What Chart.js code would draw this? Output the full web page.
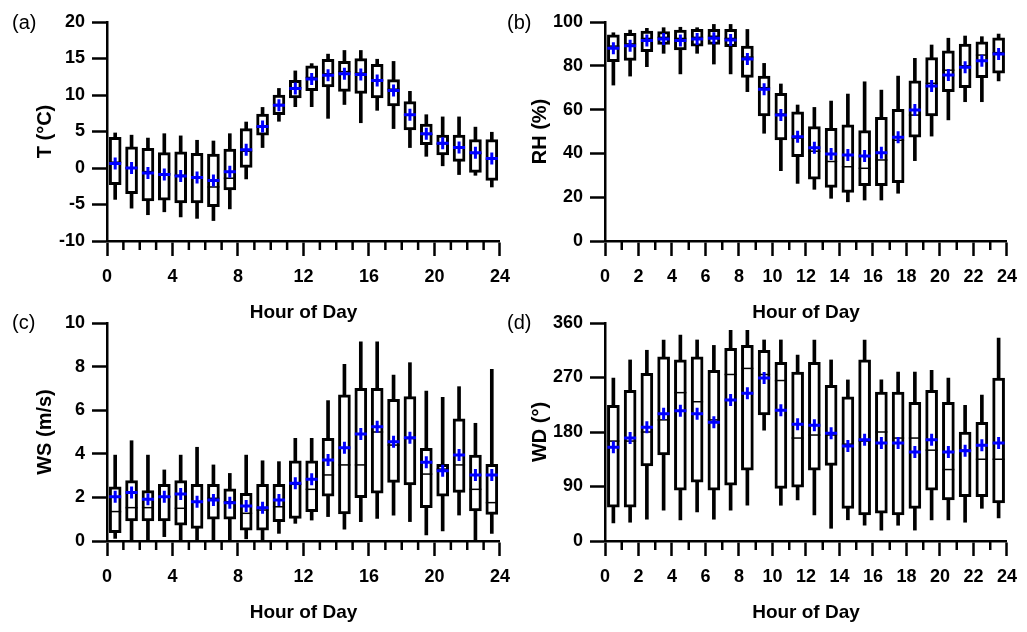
<!DOCTYPE html>
<html>
<head>
<meta charset="utf-8">
<script src="https://cdn.jsdelivr.net/npm/chart.js@4.4.0/dist/chart.umd.min.js"></script>
<style>
  body { margin: 0; background: #fff; width: 1027px; height: 632px; position: relative; overflow: hidden;
         font-family: "Liberation Sans", Arial, sans-serif; }
  canvas { position: absolute; }
  .tag { position: absolute; font-size: 20px; line-height: 23px; color: #000; }
</style>
</head>
<body>
<canvas id="chartA" width="520" height="330" style="left:0;top:0"></canvas>
<canvas id="chartB" width="512" height="330" style="left:515px;top:0"></canvas>
<canvas id="chartC" width="520" height="332" style="left:0;top:300px"></canvas>
<canvas id="chartD" width="512" height="332" style="left:515px;top:300px"></canvas>
<div class="tag" style="left:12px;top:11px">(a)</div>
<div class="tag" style="left:507px;top:11px">(b)</div>
<div class="tag" style="left:12px;top:311px">(c)</div>
<div class="tag" style="left:507px;top:311px">(d)</div>
<script>
const hours = [0.5, 1.5, 2.5, 3.5, 4.5, 5.5, 6.5, 7.5, 8.5, 9.5, 10.5, 11.5,
               12.5, 13.5, 14.5, 15.5, 16.5, 17.5, 18.5, 19.5, 20.5, 21.5, 22.5, 23.5];

// (a) temperature, °C
const tMax  = [4.8, 4.5, 4.1, 4.7, 4.4, 3.8, 3.7, 4.7, 6.3, 8.3, 10.9, 13.3, 14.3, 15.6, 16.1, 16.1, 14.9, 14.6, 10.5, 7.3, 7.0, 7.0, 5.6, 4.9];
const tQ3   = [4.2, 2.9, 2.7, 2.1, 2.2, 2.0, 1.9, 2.6, 5.4, 7.4, 10.0, 12.0, 14.0, 14.9, 14.6, 15.0, 14.2, 12.1, 9.1, 6.0, 4.5, 4.5, 3.9, 3.9];
const tMed  = [0.8, 0.0, -0.5, -0.8, -1.0, -1.3, -2.6, -1.4, 2.3, 5.6, 8.7, 11.0, 12.4, 12.9, 13.2, 13.0, 12.0, 10.8, 7.3, 4.6, 3.3, 2.8, 2.0, 1.2];
const tQ1   = [-2.3, -3.5, -4.5, -4.4, -4.8, -4.8, -5.3, -3.0, 0.0, 4.5, 7.3, 9.6, 10.6, 11.1, 10.5, 10.2, 9.6, 8.5, 5.2, 3.2, 1.8, 0.9, -0.6, -1.7];
const tMin  = [-4.3, -5.5, -6.4, -6.0, -6.7, -6.9, -7.2, -5.6, -1.5, 2.8, 6.4, 8.4, 8.4, 6.8, 8.7, 6.2, 7.9, 5.4, 2.8, 1.6, 0.3, -0.9, -1.0, -2.6];
const tMean = [0.6, 0.0, -0.7, -0.9, -1.1, -1.3, -1.7, -0.5, 2.5, 5.7, 8.6, 10.9, 12.2, 12.7, 12.9, 12.8, 12.0, 10.6, 7.3, 4.7, 3.4, 2.8, 2.1, 1.3];

// (b) relative humidity, %
const rhMax  = [95.1, 96.3, 97.1, 97.4, 97.6, 97.4, 98.9, 98.9, 96.6, 81.1, 71.7, 62.1, 61.0, 63.9, 67.1, 72.7, 68.9, 75.3, 83.4, 89.5, 92.6, 93.6, 93.3, 94.5];
const rhQ3   = [94.1, 94.8, 95.9, 95.6, 96.3, 96.6, 96.6, 96.6, 89.0, 75.3, 67.4, 59.0, 52.2, 51.5, 53.0, 50.4, 56.5, 60.1, 73.1, 83.7, 86.8, 89.9, 91.0, 92.8];
const rhMed  = [89, 90, 92.5, 93, 92.5, 93, 93.5, 92.5, 84, 70, 58, 47, 41, 36.3, 33.9, 33.2, 37.0, 46, 57.5, 72, 78, 80, 84.9, 86];
const rhQ1   = [81.9, 82.4, 86.5, 89.8, 87.2, 89.0, 89.8, 88.7, 74.7, 57.1, 46.1, 38.5, 28.2, 24.5, 22.2, 25.3, 25.3, 26.6, 47.4, 57.1, 68.2, 70.0, 74.6, 76.6];
const rhMin  = [71.2, 75.3, 79.6, 85.7, 76.3, 85.7, 80.8, 76.3, 68.2, 49.2, 32.1, 26.3, 23.6, 19.5, 17.9, 18.7, 18.7, 21.8, 36.7, 47.9, 55.3, 63.6, 63.6, 73.1];
const rhMean = [88.0, 89.2, 91.5, 92.2, 91.5, 92.2, 92.6, 91.8, 83.1, 69.3, 57.5, 47.6, 42.6, 39.7, 39.3, 38.8, 40.3, 47.4, 59.8, 70.8, 75.8, 79.3, 82.3, 85.4];

// (c) wind speed, m/s
const wsMax  = [3.94, 4.6, 3.94, 3.26, 3.94, 4.3, 3.49, 3.1, 3.94, 3.68, 3.64, 4.71, 4.71, 6.44, 8.1, 9.14, 9.14, 7.61, 8.18, 6.88, 6.59, 7.08, 5.4, 7.88];
const wsQ3   = [2.49, 2.77, 2.31, 2.6, 2.77, 2.6, 2.6, 2.39, 2.19, 2.6, 2.6, 3.68, 3.68, 4.71, 6.7, 7.0, 7.0, 6.5, 6.62, 4.25, 3.52, 5.6, 3.94, 3.52];
const wsMed  = [1.35, 1.53, 1.53, 2.03, 1.5, 1.8, 1.96, 1.8, 1.27, 1.42, 1.57, 2.6, 2.37, 3.03, 3.49, 3.49, 5.0, 4.4, 4.7, 3.07, 3.3, 3.49, 2.37, 1.76];
const wsQ1   = [0.38, 0.92, 0.92, 0.92, 0.73, 0.58, 1.0, 1.0, 0.5, 0.5, 0.89, 1.04, 1.35, 2.06, 1.24, 1.99, 2.19, 2.69, 2.57, 1.53, 2.06, 2.23, 1.38, 1.22];
const wsMin  = [0.12, 0, 0, 0.2, 0, 0, 0, 0, 0.1, 0, 0.35, 0.81, 0.96, 1.12, 0.54, 0.89, 1.04, 1.19, 0.89, 0.28, 0.46, 1.19, 0, 0.35];
const wsMean = [2.03, 2.22, 1.91, 2.03, 2.16, 1.8, 1.88, 1.76, 1.6, 1.53, 1.88, 2.65, 2.83, 3.72, 4.28, 4.91, 5.24, 4.55, 4.74, 3.61, 3.22, 3.94, 3.03, 3.03];

// (d) wind direction, degrees
const wdMax  = [269, 299, 315, 332, 340, 332, 323, 348, 348, 332, 332, 307, 332, 299, 266, 332, 266, 279, 279, 282, 269, 224, 241, 335];
const wdQ3   = [224, 249, 277, 304, 299, 304, 282, 318, 323, 315, 295, 279, 295, 257, 238, 299, 246, 246, 229, 249, 229, 180, 196, 269];
const wdMed  = [165, 165, 180, 200, 245, 230, 200, 275, 285, 275, 265, 170, 175, 175, 160, 165, 180, 170, 170, 150, 118, 150, 135, 135];
const wdQ1   = [56, 56, 124, 142, 84, 97, 84, 92, 117, 208, 87, 89, 117, 125, 54, 43, 46, 43, 54, 84, 68, 73, 73, 63];
const wdMin  = [30, 31, 36, 51, 35, 48, 36, 51, 59, 183, 59, 68, 43, 21, 35, 26, 18, 26, 18, 35, 35, 31, 54, 38];
const wdMean = [155, 170, 188, 210, 215, 210, 196, 233, 244, 269, 216, 193, 191, 178, 157, 167, 162, 162, 147, 167, 147, 149, 158, 162];

const FAMILY = '"Liberation Sans", Arial, sans-serif';
const TICK_FONT = { family: FAMILY, size: 18, weight: 'bold' };
const XTITLE_FONT = { family: FAMILY, size: 19, weight: 'bold' };
const YTITLE_FONT = { family: FAMILY, size: 20, weight: 'bold' };

// short ticks at every hour that has no labelled tick
const minorTicks = {
  id: 'minorTicks',
  afterDraw(chart) {
    const xs = chart.scales.x, ctx = chart.ctx;
    const step = chart.options.scales.x.ticks.stepSize;
    ctx.save();
    ctx.strokeStyle = '#000';
    ctx.lineWidth = 2.5;
    for (let h = 1; h < 24; h++) {
      if (h % step === 0) continue;
      const px = xs.getPixelForValue(h);
      ctx.beginPath();
      ctx.moveTo(px, xs.top);
      ctx.lineTo(px, xs.top + 9);
      ctx.stroke();
    }
    ctx.restore();
  }
};

function boxChart(id, o) {
  const whisk = hours.map((h, i) => ({ x: h, y: [o.min[i], o.max[i]] }));
  const box = hours.map((h, i) => ({ x: h, y: [o.q1[i], o.q3[i]] }));
  const med = hours.map((h, i) => ({ x: h, y: o.med[i] }));
  const mean = hours.map((h, i) => ({ x: h, y: o.mean[i] }));
  return new Chart(document.getElementById(id), {
    type: 'bar',
    data: {
      datasets: [
        { data: whisk, backgroundColor: '#000', borderWidth: 0, barThickness: 3, grouped: false, order: 4 },
        { data: box, backgroundColor: '#fff', borderColor: '#000', borderWidth: 3, borderSkipped: false,
          barThickness: o.bw, grouped: false, order: 3 },
        { type: 'line', data: med, showLine: false, pointStyle: 'line', pointRadius: o.bw / 2,
          pointBorderWidth: 1.5, pointBorderColor: '#000', order: 2 },
        { type: 'line', data: mean, showLine: false, pointStyle: 'cross', pointRadius: 6,
          pointBorderWidth: 3, pointBorderColor: '#0000ff', order: 1 }
      ]
    },
    options: {
      responsive: false,
      animation: false,
      layout: { padding: { top: o.padTop, right: o.padRight, left: 0, bottom: 0 } },
      plugins: { legend: { display: false }, tooltip: { enabled: false } },
      scales: {
        x: {
          type: 'linear', min: 0, max: 24, offset: false,
          ticks: { stepSize: o.xStep, autoSkip: false, maxRotation: 0, padding: 10, color: '#000', font: TICK_FONT },
          grid: { offset: false, drawOnChartArea: false, tickLength: 15, tickWidth: 2.5, tickColor: '#000' },
          border: { color: '#000', width: 2.5 },
          title: { display: true, text: 'Hour of Day', color: '#000', font: XTITLE_FONT, padding: { top: 0, bottom: o.xTitlePad } },
          afterFit: s => { s.height = o.xh; }
        },
        y: {
          min: o.yMin, max: o.yMax,
          ticks: { stepSize: o.yStep, padding: 7, color: '#000', font: TICK_FONT },
          grid: { drawOnChartArea: false, tickLength: 15, tickWidth: 2.5, tickColor: '#000' },
          border: { color: '#000', width: 2.5 },
          title: { display: true, text: o.yTitle, color: '#000', font: YTITLE_FONT, padding: { top: o.yTitlePad, bottom: 0 } },
          afterFit: s => { s.width = o.yw; }
        }
      }
    },
    plugins: [minorTicks]
  });
}

boxChart('chartA', { min: tMin, q1: tQ1, med: tMed, q3: tQ3, max: tMax, mean: tMean,
  yMin: -10, yMax: 20, yStep: 5, yTitle: 'T (°C)', xStep: 4, bw: 12,
  padTop: 22, padRight: 10, yw: 107, xh: 89, yTitlePad: 33, xTitlePad: 6 });
boxChart('chartB', { min: rhMin, q1: rhQ1, med: rhMed, q3: rhQ3, max: rhMax, mean: rhMean,
  yMin: 0, yMax: 100, yStep: 20, yTitle: 'RH (%)', xStep: 2, bw: 12,
  padTop: 22, padRight: 20, yw: 90, xh: 89, yTitlePad: 13, xTitlePad: 6 });
boxChart('chartC', { min: wsMin, q1: wsQ1, med: wsMed, q3: wsQ3, max: wsMax, mean: wsMean,
  yMin: 0, yMax: 10, yStep: 2, yTitle: 'WS (m/s)', xStep: 4, bw: 12,
  padTop: 23, padRight: 10, yw: 107, xh: 91, yTitlePad: 33, xTitlePad: 8 });
boxChart('chartD', { min: wdMin, q1: wdQ1, med: wdMed, q3: wdQ3, max: wdMax, mean: wdMean,
  yMin: 0, yMax: 360, yStep: 90, yTitle: 'WD (°)', xStep: 2, bw: 12,
  padTop: 23, padRight: 20, yw: 90, xh: 91, yTitlePad: 13, xTitlePad: 8 });
</script>
</body>
</html>
